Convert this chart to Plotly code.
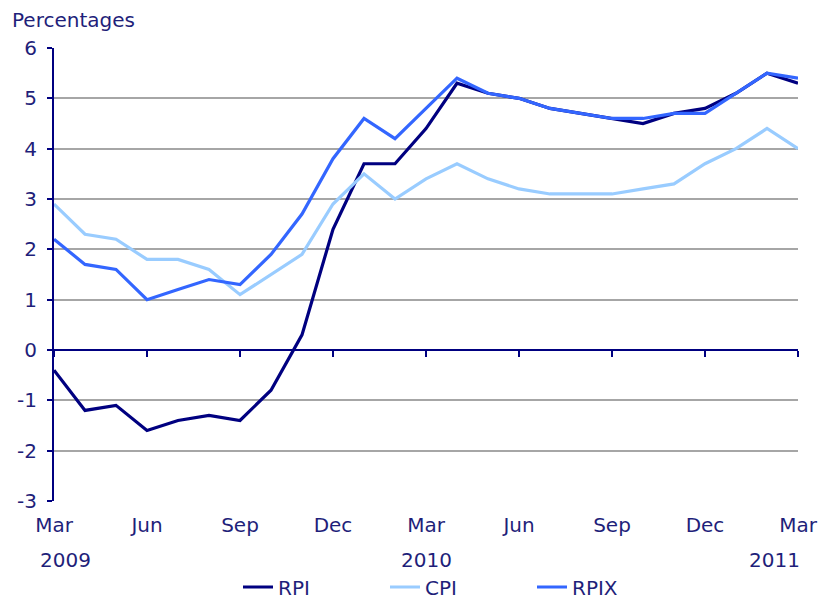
import plotly.graph_objects as go

months = ["Mar 2009","Apr 2009","May 2009","Jun 2009","Jul 2009","Aug 2009","Sep 2009",
          "Oct 2009","Nov 2009","Dec 2009","Jan 2010","Feb 2010","Mar 2010","Apr 2010",
          "May 2010","Jun 2010","Jul 2010","Aug 2010","Sep 2010","Oct 2010","Nov 2010",
          "Dec 2010","Jan 2011","Feb 2011","Mar 2011"]

rpi  = [-0.4,-1.2,-1.1,-1.6,-1.4,-1.3,-1.4,-0.8,0.3,2.4,3.7,3.7,4.4,5.3,
        5.1,5.0,4.8,4.7,4.6,4.5,4.7,4.8,5.1,5.5,5.3]
cpi  = [2.9,2.3,2.2,1.8,1.8,1.6,1.1,1.5,1.9,2.9,3.5,3.0,3.4,3.7,
        3.4,3.2,3.1,3.1,3.1,3.2,3.3,3.7,4.0,4.4,4.0]
rpix = [2.2,1.7,1.6,1.0,1.2,1.4,1.3,1.9,2.7,3.8,4.6,4.2,4.8,5.4,
        5.1,5.0,4.8,4.7,4.6,4.6,4.7,4.7,5.1,5.5,5.4]

tick_months = ["Mar 2009","Jun 2009","Sep 2009","Dec 2009","Mar 2010",
               "Jun 2010","Sep 2010","Dec 2010","Mar 2011"]
tick_text = ["Mar","Jun","Sep","Dec","Mar","Jun","Sep","Dec","Mar"]
y_ticks = [-3,-2,-1,0,1,2,3,4,5,6]
y_tick_text = ["-3","-2","-1","0","1","2","3","4","5","6"]

NAVY_TXT = "#1F1F7A"
AXIS = "#000080"
FONT = "DejaVu Sans"
FS = 20

fig = go.Figure()
fig.add_trace(go.Scatter(x=months, y=rpi, name="RPI", mode="lines",
                         line=dict(color="#000080", width=3.2)))
fig.add_trace(go.Scatter(x=months, y=cpi, name="CPI", mode="lines",
                         line=dict(color="#99CCFF", width=3.2)))
fig.add_trace(go.Scatter(x=months, y=rpix, name="RPIX", mode="lines",
                         line=dict(color="#3366FF", width=3.2)))
# invisible trace to host the zero-line axis with tick marks
fig.add_trace(go.Scatter(x=months, y=[None]*len(months), xaxis="x2",
                         showlegend=False, hoverinfo="skip"))

fig.update_layout(
    width=822, height=600,
    margin=dict(l=54, r=24, t=48, b=99, autoexpand=False),
    paper_bgcolor="white", plot_bgcolor="white",
    font=dict(family=FONT, size=FS, color=NAVY_TXT),
    xaxis=dict(type="category", categoryorder="array", categoryarray=months,
               range=[0, len(months)-1], tickmode="array",
               tickvals=tick_months, ticktext=tick_text,
               showgrid=False, zeroline=False, showline=False, ticks="",
               ticklabelstandoff=10, automargin=False,
               tickfont=dict(family=FONT, size=FS, color=NAVY_TXT)),
    xaxis2=dict(type="category", categoryorder="array", categoryarray=months,
                range=[0, len(months)-1], overlaying="x", anchor="free",
                position=1/3, side="bottom", tickmode="array",
                tickvals=tick_months, showticklabels=False,
                ticks="outside", ticklen=6, tickwidth=2, tickcolor=AXIS,
                showline=True, linecolor=AXIS, linewidth=2,
                showgrid=False, zeroline=False, automargin=False),
    yaxis=dict(range=[-3, 6], tickmode="array", tickvals=y_ticks,
               ticktext=y_tick_text,
               showgrid=True, gridcolor="#A6A6A6", gridwidth=2,
               zeroline=False, showline=True, linecolor=AXIS, linewidth=2,
               ticks="outside", ticklen=5, tickwidth=2, tickcolor=AXIS,
               ticklabelstandoff=6, automargin=False,
               tickfont=dict(family=FONT, size=FS, color=NAVY_TXT)),
    legend=dict(orientation="h", x=(238-54)/744, xanchor="left",
                y=(501-587)/453, yanchor="middle",
                entrywidth=102, entrywidthmode="pixels",
                font=dict(family=FONT, size=FS, color=NAVY_TXT),
                bgcolor="rgba(0,0,0,0)"),
    showlegend=True,
)

fig.add_annotation(text="Percentages", xref="paper", yref="paper",
                   x=(10-54)/744, y=(501-20)/453, xanchor="left", yanchor="middle",
                   showarrow=False, font=dict(family=FONT, size=FS, color=NAVY_TXT))
fig.add_annotation(text="2009", xref="x", yref="paper", x="Mar 2009",
                   y=(501-560)/453, xanchor="left", yanchor="middle", xshift=-16,
                   showarrow=False, font=dict(family=FONT, size=FS, color=NAVY_TXT))
fig.add_annotation(text="2010", xref="x", yref="paper", x="Mar 2010",
                   y=(501-560)/453, xanchor="center", yanchor="middle",
                   showarrow=False, font=dict(family=FONT, size=FS, color=NAVY_TXT))
fig.add_annotation(text="2011", xref="x", yref="paper", x="Mar 2011",
                   y=(501-560)/453, xanchor="right", yanchor="middle", xshift=4,
                   showarrow=False, font=dict(family=FONT, size=FS, color=NAVY_TXT))

fig.write_html("out.html",
               config={"displayModeBar": False},
               post_script="document.body.style.margin='0';"
                           "document.body.style.overflow='hidden';")
